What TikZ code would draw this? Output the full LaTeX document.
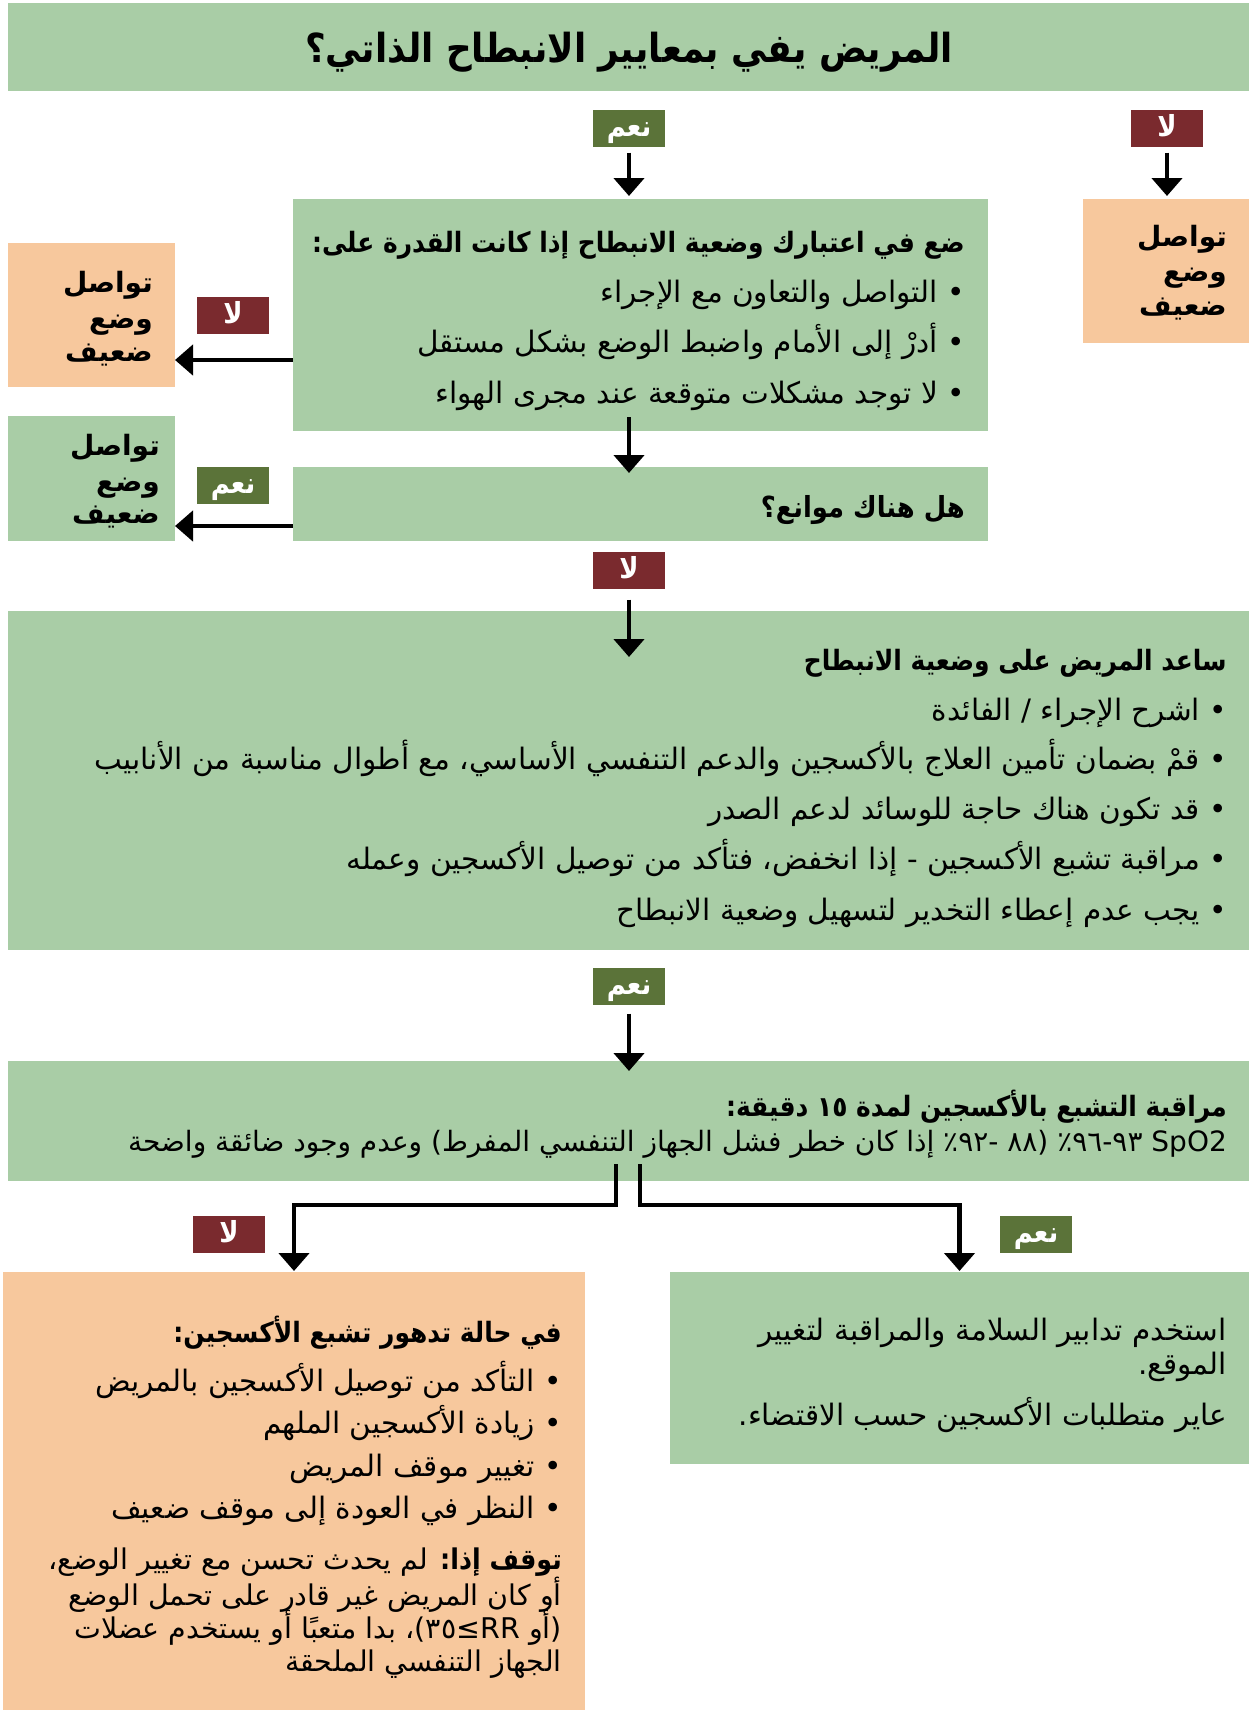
\documentclass[tikz,border=0pt]{standalone}
\usepackage{fontspec}
\usetikzlibrary{arrows.meta}
\TeXXeTstate=1
\newfontfamily\ar[Script=Arabic]{DejaVu Sans}
\newfontfamily\arc[Script=Arabic,FakeStretch=0.89]{DejaVu Sans}
\definecolor{lg}{HTML}{A9CDA6}
\definecolor{og}{HTML}{F7C89D}
\definecolor{yesc}{HTML}{5B7339}
\definecolor{noc}{HTML}{7A2A2E}
\newcommand\AR[1]{\beginR #1\endR}
\tikzset{
  box/.style={inner sep=0pt,outer sep=0pt,anchor=north west},
  gbox/.style={box,fill=lg},
  obox/.style={box,fill=og},
  lab/.style={inner sep=0pt,outer sep=0pt,minimum width=72pt,minimum height=37pt,text height=21pt,text depth=4pt,text=white,font=\arc\bfseries\fontsize{29}{34}\selectfont},
  yeslab/.style={lab,fill=yesc},
  nolab/.style={lab,fill=noc},
  tx/.style={inner sep=0pt,anchor=base east,font=\ar\fontsize{29.5}{34}\selectfont},
  hd/.style={tx,font=\arc\bfseries\fontsize{28}{32}\selectfont},
  sd/.style={tx,font=\ar\bfseries\fontsize{28}{32}\selectfont},
  arr/.style={line width=4.5pt,line join=miter,-{Triangle[width=30pt,length=18pt]}}
}
\begin{document}
\begin{tikzpicture}[x=1pt,y=-1pt]
\useasboundingbox[fill=white] (0,0) rectangle (1249,1710);
% boxes
\node[gbox,minimum width=1241pt,minimum height=88pt] (title) at (8,3) {};
\node[obox,minimum width=166pt,minimum height=144pt] (boxR) at (1083,199) {};
\node[gbox,minimum width=695pt,minimum height=232pt] (box1) at (293,199) {};
\node[obox,minimum width=167pt,minimum height=144pt] (boxL1) at (8,243) {};
\node[gbox,minimum width=695pt,minimum height=74pt] (box2) at (293,467) {};
\node[gbox,minimum width=167pt,minimum height=125pt] (boxL2) at (8,416) {};
\node[gbox,minimum width=1241pt,minimum height=339pt] (box3) at (8,611) {};
\node[gbox,minimum width=1241pt,minimum height=120pt] (box4) at (8,1061) {};
\node[obox,minimum width=582pt,minimum height=438pt] (box5) at (3,1272) {};
\node[gbox,minimum width=579pt,minimum height=192pt] (box6) at (670,1272) {};
% labels
\node[yeslab] (L1) at (629,128) {\AR{نعم}};
\node[nolab] (L2) at (1167,128) {\AR{لا}};
\node[nolab] (L3) at (233,315) {\AR{لا}};
\node[yeslab] (L4) at (233,485) {\AR{نعم}};
\node[nolab] (L5) at (629,570) {\AR{لا}};
\node[yeslab] (L6) at (629,986) {\AR{نعم}};
\node[nolab] (L7) at (229,1234) {\AR{لا}};
\node[yeslab] (L8) at (1036,1234) {\AR{نعم}};
% title
\node[inner sep=0pt,font=\arc\bfseries\fontsize{40}{46}\selectfont] (ttl) at (629,52) {\AR{المريض يفي بمعايير الانبطاح الذاتي؟}};
% right side box
\node[sd] (r1) at (1227,246) {\AR{تواصل}};
\node[sd] (r2) at (1227,281) {\AR{وضع}};
\node[sd] (r3) at (1227,315) {\AR{ضعيف}};
% left side boxes
\node[sd] (la1) at (153,292) {\AR{تواصل}};
\node[sd] (la2) at (153,328) {\AR{وضع}};
\node[sd] (la3) at (153,361) {\AR{ضعيف}};
\node[sd] (lb1) at (160,455) {\AR{تواصل}};
\node[sd] (lb2) at (160,491) {\AR{وضع}};
\node[sd] (lb3) at (160,523) {\AR{ضعيف}};
% box1
\node[hd] (b1h) at (965,252) {\AR{ضع في اعتبارك وضعية الانبطاح إذا كانت القدرة على:}};
\node[tx] (b1a) at (965,302) {\AR{• التواصل والتعاون مع الإجراء}};
\node[tx] (b1b) at (965,352) {\AR{• أدرْ إلى الأمام واضبط الوضع بشكل مستقل}};
\node[tx] (b1c) at (965,403) {\AR{• لا توجد مشكلات متوقعة عند مجرى الهواء}};
% box2
\node[hd,font=\arc\bfseries\fontsize{29}{33}\selectfont] (b2h) at (965,517) {\AR{هل هناك موانع؟}};
% box3
\node[hd] (b3h) at (1227,670) {\AR{ساعد المريض على وضعية الانبطاح}};
\node[tx] (b3a) at (1227,720) {\AR{• اشرح الإجراء / الفائدة}};
\node[tx] (b3b) at (1227,769) {\AR{• قمْ بضمان تأمين العلاج بالأكسجين والدعم التنفسي الأساسي، مع أطوال مناسبة من الأنابيب}};
\node[tx] (b3c) at (1227,819) {\AR{• قد تكون هناك حاجة للوسائد لدعم الصدر}};
\node[tx] (b3d) at (1227,869) {\AR{• مراقبة تشبع الأكسجين - إذا انخفض، فتأكد من توصيل الأكسجين وعمله}};
\node[tx] (b3e) at (1227,920) {\AR{• يجب عدم إعطاء التخدير لتسهيل وضعية الانبطاح}};
% box4
\node[hd] (b4h) at (1227,1116) {\AR{مراقبة التشبع بالأكسجين لمدة ١٥ دقيقة:}};
\node[tx,font=\ar\fontsize{28}{32}\selectfont] (b4a) at (1227,1151) {\AR{SpO2 ٩٣-٩٦٪ (٨٨ -٩٢٪ إذا كان خطر فشل الجهاز التنفسي المفرط) وعدم وجود ضائقة واضحة}};
% box5
\node[hd] (b5h) at (562,1342) {\AR{في حالة تدهور تشبع الأكسجين:}};
\node[tx] (b5a) at (562,1391) {\AR{• التأكد من توصيل الأكسجين بالمريض}};
\node[tx] (b5b) at (562,1433) {\AR{• زيادة الأكسجين الملهم}};
\node[tx] (b5c) at (562,1476) {\AR{• تغيير موقف المريض}};
\node[tx] (b5d) at (562,1518) {\AR{• النظر في العودة إلى موقف ضعيف}};
\node[tx,font=\ar\fontsize{28.5}{33}\selectfont] (b5e) at (562,1569) {\AR{{\arc\bfseries توقف إذا:} لم يحدث تحسن مع تغيير الوضع،}};
\node[tx,font=\ar\fontsize{28.5}{33}\selectfont] (b5f) at (562,1605) {\AR{أو كان المريض غير قادر على تحمل الوضع}};
\node[tx,font=\ar\fontsize{28.5}{33}\selectfont] (b5g) at (562,1638) {\AR{(أو ^^^^200fRR≥٣٥)، بدا متعبًا أو يستخدم عضلات}};
\node[tx,font=\ar\fontsize{28.5}{33}\selectfont] (b5h2) at (562,1671) {\AR{الجهاز التنفسي الملحقة}};
% box6
\node[tx] (b6a) at (1227,1340) {\AR{استخدم تدابير السلامة والمراقبة لتغيير}};
\node[tx] (b6b) at (1227,1374) {\AR{الموقع.}};
\node[tx] (b6c) at (1227,1425) {\AR{عاير متطلبات الأكسجين حسب الاقتضاء.}};
% connectors
\draw[arr,shorten <=6pt,shorten >=3pt] (L1.south) -- (L1 |- box1.north);
\draw[arr,shorten <=6pt,shorten >=3pt] (L2.south) -- (L2 |- boxR.north);
\draw[arr] ([yshift=-45pt]box1.west) -- ([yshift=-45pt]boxL1.east);
\draw[arr] ([yshift=-22pt]box2.west) -- ([yshift=-22pt]box2.west -| boxL2.east);
\draw[arr,shorten <=-14pt,shorten >=-6pt] (L1 |- box1.south) -- (L1 |- box2.north);
\draw[arr,shorten <=11pt,shorten >=-46pt] (L5.south) -- (L5 |- box3.north);
\draw[arr,shorten <=9pt,shorten >=-10pt] (L6.south) -- (L6 |- box4.north);
\draw[arr] ([xshift=-12.5pt,yshift=17pt]box4.south) -- ([xshift=-12.5pt,yshift=-24pt]box4.south) -| ([yshift=1pt]box5.north);
\draw[arr] ([xshift=11.5pt,yshift=17pt]box4.south) -- ([xshift=11.5pt,yshift=-24pt]box4.south) -| ([yshift=1pt]box6.north);
\end{tikzpicture}
\end{document}
